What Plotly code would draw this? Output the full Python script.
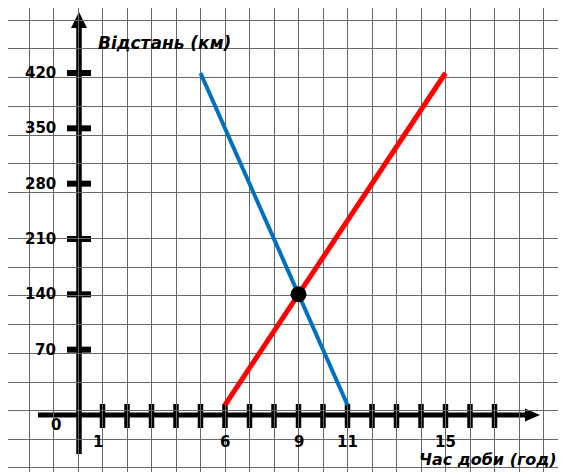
import plotly.graph_objects as go

# ---- data ----
blue_x = [5, 11]
blue_y = [420, 0]
red_x = [6, 15]
red_y = [0, 420]
meet_x = [9]
meet_y = [140]
y_ticks = [70, 140, 210, 280, 350, 420]
x_ticks = list(range(1, 18))
x_tick_labels = {1: "1", 6: "6", 9: "9", 11: "11", 15: "15"}

# ---- layout geometry (pixel frame of the 566x472 page) ----
PAGE_W, PAGE_H = 566, 472
OFF = 8                                  # default page margin of the html body
W, H = PAGE_W - OFF, PAGE_H - OFF
X0_PX, X_UNIT_PX = 78.0, 24.5            # x=0 at 78 px, 24.5 px per hour
Y0_PX, Y_TOP_PX = 405.0, 73.0            # y=0 at 405 px, y=420 at 73 px
Y_UNIT_PX = (Y0_PX - Y_TOP_PX) / 420.0


def dx(px):
    return (px - X0_PX) / X_UNIT_PX


def dy(px):
    return (Y0_PX - px) / Y_UNIT_PX


paper_rows_px = [20, 48, 77, 106, 135, 163, 192, 238, 267, 295, 324, 353, 382, 410, 439, 467]
grid_color = "#676767"

fig = go.Figure()

fig.add_trace(go.Scatter(x=blue_x, y=blue_y, mode="lines",
                         line=dict(color="#0070C0", width=4), hoverinfo="skip"))
fig.add_trace(go.Scatter(x=red_x, y=red_y, mode="lines",
                         line=dict(color="#FF0000", width=5), hoverinfo="skip"))
fig.add_trace(go.Scatter(x=meet_x, y=meet_y, mode="markers",
                         marker=dict(color="black", size=16), hoverinfo="skip"))

shapes = []
# y axis line + arrow
shapes.append(dict(type="line", xref="x", yref="y", x0=dx(79), x1=dx(79), y0=dy(454), y1=dy(26),
                   line=dict(color="black", width=5.5), layer="below"))
shapes.append(dict(type="path", xref="x", yref="y",
                   path=f"M {dx(71)},{dy(28)} L {dx(87)},{dy(28)} L {dx(79)},{dy(12)} Z",
                   fillcolor="black", line=dict(color="black", width=0), layer="below"))
# x axis line + arrow
axis_y = dy(415)
shapes.append(dict(type="line", xref="x", yref="y", x0=dx(38), x1=dx(528), y0=axis_y, y1=axis_y,
                   line=dict(color="black", width=5), layer="below"))
shapes.append(dict(type="path", xref="x", yref="y",
                   path=f"M {dx(525)},{dy(408.5)} L {dx(525)},{dy(421.5)} L {dx(540)},{axis_y} Z",
                   fillcolor="black", line=dict(color="black", width=0), layer="below"))
# x ticks
for xv in x_ticks:
    shapes.append(dict(type="line", xref="x", yref="y", x0=xv, x1=xv, y0=dy(404), y1=dy(428),
                       line=dict(color="black", width=5.5), layer="below"))
# y ticks
for yv in y_ticks:
    shapes.append(dict(type="line", xref="x", yref="y", x0=dx(67), x1=dx(91), y0=yv, y1=yv,
                       line=dict(color="black", width=6), layer="below"))

num_font = dict(family="DejaVu Sans", size=15, color="black", weight="bold")
lab_font = dict(family="DejaVu Sans", size=16, color="black", style="italic", weight="bold")
ylab_font = dict(lab_font, size=17)

annotations = []
for yv in y_ticks:
    annotations.append(dict(x=0, y=yv, xref="x", yref="y", text=str(yv), showarrow=False,
                            xanchor="right", yanchor="middle", xshift=-20, font=num_font))
annotations.append(dict(x=0, y=0, xref="x", yref="y", text="0", showarrow=False,
                        xanchor="right", yanchor="middle", xshift=-15, yshift=-20, font=num_font))
for xv, txt in x_tick_labels.items():
    annotations.append(dict(x=xv, y=0, xref="x", yref="y", text=txt, showarrow=False,
                            xanchor="center", yanchor="middle", yshift=-37,
                            xshift=-5 if xv == 1 else 0, font=num_font))
annotations.append(dict(x=(96 - OFF) / W, y=1 - (43 - OFF) / H, xref="paper", yref="paper",
                        text="Відстань (км)", showarrow=False, xanchor="left", yanchor="middle",
                        font=ylab_font))
annotations.append(dict(x=(417 - OFF) / W, y=1 - (459 - OFF) / H, xref="paper", yref="paper",
                        text="Час доби (год)", showarrow=False, xanchor="left", yanchor="middle",
                        font=lab_font))

fig.update_layout(
    width=W, height=H, margin=dict(l=0, r=0, t=0, b=0),
    paper_bgcolor="white", plot_bgcolor="white", showlegend=False,
    shapes=shapes, annotations=annotations,
    xaxis=dict(range=[dx(OFF), dx(PAGE_W)], dtick=1, tick0=0, showgrid=True, gridcolor=grid_color,
               gridwidth=1.3, zeroline=False, showline=False, showticklabels=False,
               ticks="", fixedrange=True),
    yaxis=dict(range=[dy(PAGE_H), dy(OFF)], tickmode="array",
               tickvals=[dy(p) for p in paper_rows_px],
               showgrid=True, gridcolor=grid_color, gridwidth=1.3, zeroline=False,
               showline=False, showticklabels=False, ticks="", fixedrange=True),
)

fig.write_html("out.html")
